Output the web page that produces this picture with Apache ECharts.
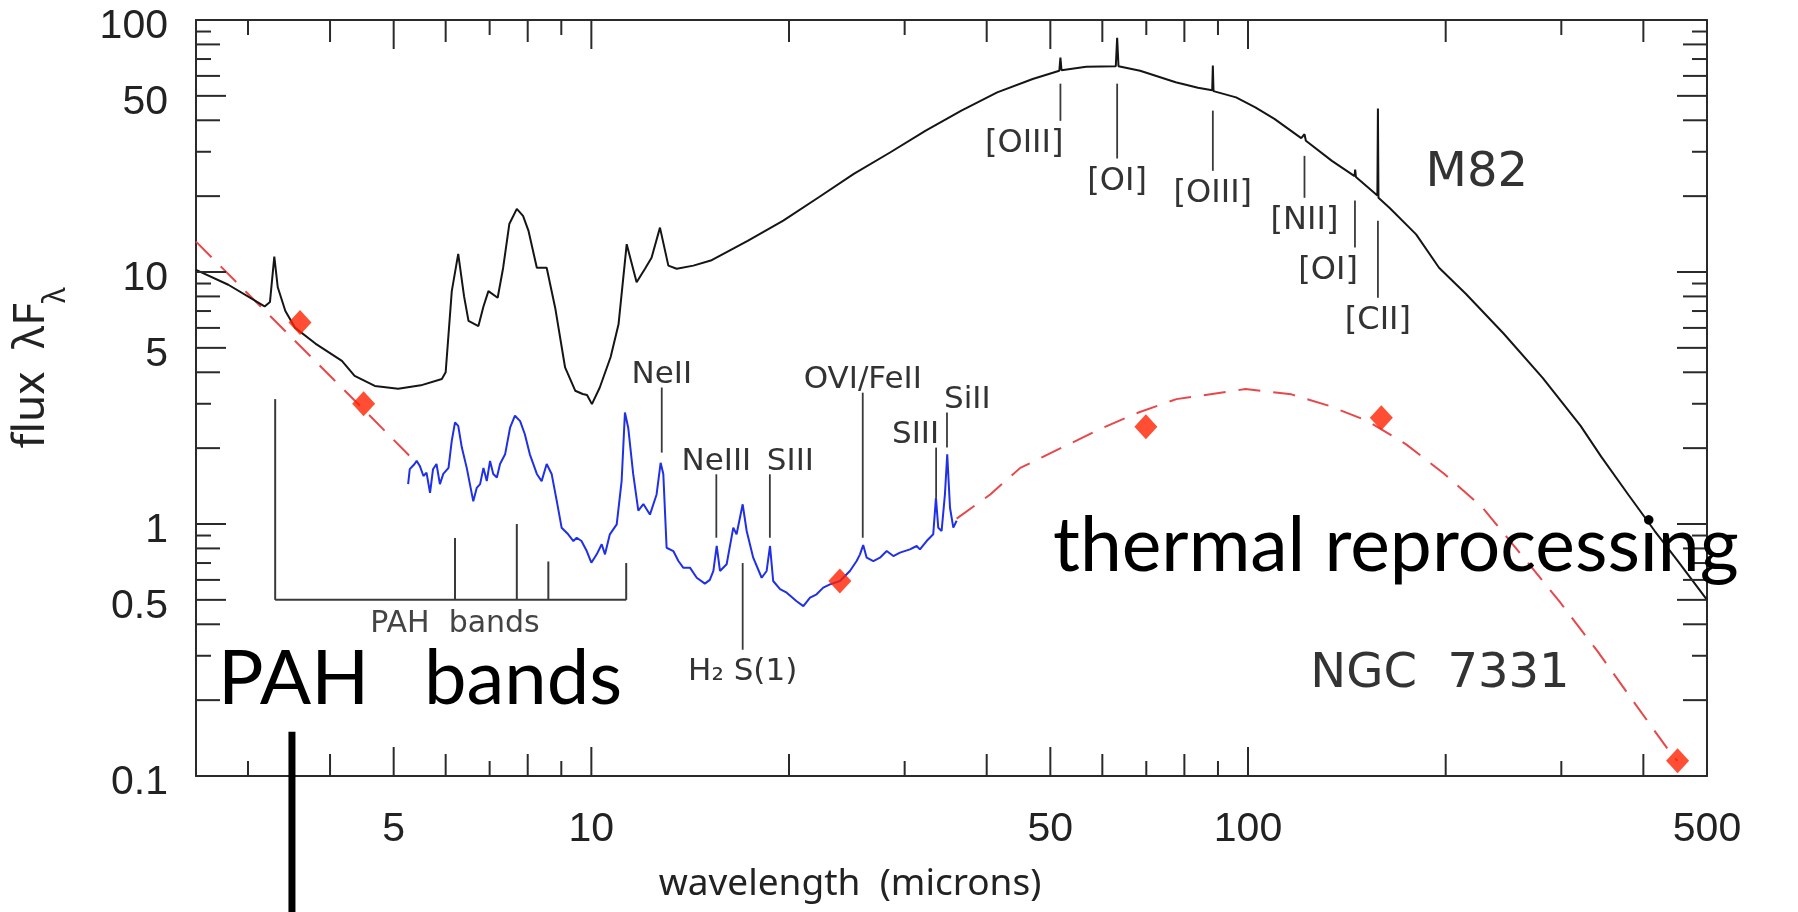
<!DOCTYPE html>
<html>
<head>
<meta charset="utf-8">
<title>M82 / NGC 7331 infrared spectra</title>
<script src="https://cdn.jsdelivr.net/npm/echarts@6/dist/echarts.min.js"></script>
<style>
  html, body { margin: 0; padding: 0; background: #fff; }
  #chart { width: 1798px; height: 912px; }
</style>
</head>
<body>
<div id="chart"></div>
<script>
// [wavelength (microns), flux lambda*F_lambda]
const m82Spectrum = [
  [2.5, 10.2], [2.8, 8.9], [3.18, 7.3], [3.24, 7.6], [3.29, 11.5], [3.33, 8.7], [3.42, 7.0],
  [3.54, 6.0], [3.8, 5.2], [4.17, 4.44], [4.36, 3.87], [4.68, 3.53], [5.08, 3.44], [5.5, 3.55],
  [5.92, 3.76], [6.0, 4.0], [6.13, 8.4], [6.27, 11.8], [6.4, 8.0], [6.5, 6.4], [6.73, 6.1],
  [6.85, 7.3], [6.97, 8.4], [7.2, 7.9], [7.34, 10.4], [7.5, 15.5], [7.7, 17.8], [7.87, 16.7],
  [8.02, 14.6], [8.26, 10.4], [8.55, 10.4], [8.81, 7.2], [9.12, 4.18], [9.45, 3.38], [9.7, 3.28],
  [9.85, 3.25], [10.02, 2.99], [10.3, 3.48], [10.7, 4.6], [11.0, 6.2], [11.32, 12.9], [11.72, 9.1],
  [12.07, 10.3], [12.35, 11.4], [12.72, 15.0], [13.1, 10.6], [13.49, 10.3], [14.3, 10.6],
  [15.2, 11.1], [17.3, 13.3], [19.6, 16.0], [22.2, 19.8], [25.1, 24.5], [28.5, 29.8], [32.3, 36.4],
  [36.6, 43.7], [41.5, 51.6], [47.0, 58.3], [51.6, 62.9], [51.8, 71], [52.0, 63.2], [56.7, 65.3],
  [62.9, 65.5], [63.2, 85], [63.5, 65.5], [68.5, 62.9], [77.6, 56.6], [83.9, 53.8], [88.2, 52.6],
  [88.4, 66], [88.6, 52.2], [95.9, 49.3], [102.6, 45], [109.7, 40.5], [120.5, 34], [121.9, 35.2],
  [122.5, 33.2], [134.2, 27.6], [145.3, 24.0], [145.6, 25.5], [146.0, 23.8], [157.4, 20.1],
  [157.7, 44.5], [158.0, 19.7], [164.2, 18.0], [180.3, 14.1], [195.4, 10.4], [214.6, 8.2],
  [245, 5.7], [281, 3.8], [321, 2.45], [345, 1.85], [380, 1.3], [416, 0.94], [450, 0.72], [500, 0.5]
];

const ngc7331Spectrum = [
  [5.26, 1.44], [5.29, 1.65], [5.38, 1.73], [5.42, 1.78], [5.48, 1.70], [5.55, 1.55], [5.61, 1.60],
  [5.68, 1.33], [5.74, 1.65], [5.81, 1.73], [5.88, 1.44], [5.95, 1.58], [6.06, 1.67], [6.13, 2.14],
  [6.20, 2.53], [6.27, 2.45], [6.35, 2.01], [6.46, 1.67], [6.61, 1.23], [6.69, 1.39], [6.77, 1.44],
  [6.85, 1.67], [6.93, 1.48], [7.01, 1.78], [7.09, 1.58], [7.18, 1.53], [7.26, 1.73], [7.39, 1.89],
  [7.52, 2.41], [7.65, 2.69], [7.79, 2.56], [7.92, 2.27], [8.06, 1.89], [8.26, 1.58], [8.40, 1.48],
  [8.55, 1.73], [8.70, 1.58], [8.86, 1.23], [9.01, 0.967], [9.22, 0.91], [9.39, 0.856], [9.50, 0.882],
  [9.66, 0.856], [9.84, 0.781], [10.0, 0.702], [10.19, 0.758], [10.37, 0.831], [10.49, 0.758],
  [10.67, 0.91], [10.93, 0.997], [11.12, 1.48], [11.25, 2.77], [11.38, 2.41], [11.58, 1.58],
  [11.79, 1.13], [12.0, 1.20], [12.28, 1.09], [12.57, 1.31], [12.75, 1.75], [12.87, 1.58],
  [13.02, 0.805], [13.33, 0.781], [13.57, 0.713], [13.8, 0.671], [14.13, 0.671], [14.47, 0.612],
  [14.89, 0.58], [15.15, 0.60], [15.34, 0.651], [15.52, 0.818], [15.70, 0.651], [16.07, 0.692],
  [16.45, 0.967], [16.64, 0.910], [17.0, 1.197], [17.24, 0.938], [17.64, 0.735], [18.17, 0.612],
  [18.49, 0.651], [18.71, 0.818], [18.92, 0.594], [19.38, 0.551], [19.84, 0.534], [20.54, 0.494],
  [21.03, 0.472], [21.53, 0.51], [22.03, 0.526], [22.55, 0.559], [23.09, 0.576], [23.91, 0.594],
  [24.76, 0.651], [25.35, 0.713], [25.65, 0.758], [25.94, 0.825], [26.26, 0.735], [26.88, 0.713],
  [27.51, 0.735], [28.17, 0.781], [28.83, 0.746], [29.51, 0.77], [30.56, 0.793], [31.29, 0.818],
  [31.65, 0.793], [32.4, 0.856], [33.16, 0.91], [33.48, 1.27], [33.75, 0.967], [34.15, 0.938],
  [34.55, 1.31], [34.83, 1.89], [35.17, 1.16], [35.58, 0.967], [36.0, 1.03]
];

// dashed model curve, split where the spectrum covers it
const modelShort = [[2.5, 13.2], [3.5, 5.48], [4.5, 2.85], [5.4, 1.76]];
const modelLong = [
  [36.0, 1.05], [40.5, 1.31], [45.0, 1.67], [59.5, 2.38], [68.1, 2.77], [77.8, 3.13], [99.1, 3.43],
  [116.4, 3.27], [133.1, 2.94], [152.2, 2.56], [174.1, 2.07], [199.1, 1.58], [227.7, 1.16],
  [260.4, 0.758], [297.8, 0.494], [340.5, 0.313], [389.4, 0.192], [445.5, 0.118], [451, 0.115]
];
const photometry = [[3.6, 6.3], [4.5, 3.0], [23.9, 0.594], [69.9, 2.43], [159.6, 2.64], [451, 0.115]];

// axis ticks and labels
const xTickMajor = [5, 10, 50, 100, 500];
const xTickMid = [4, 6, 8, 20, 40, 60, 80, 200, 400];
const xTickMinor = [3, 7, 9, 30, 70, 90, 300];
const yTickMajor = [0.5, 1, 5, 10, 50];
const yTickMid = [0.2, 0.4, 0.6, 0.8, 2, 4, 6, 8, 20, 40, 60, 80];
const yTickMinor = [0.3, 0.7, 0.9, 3, 7, 9, 30, 70, 90];
const xTickLabels = [5, 10, 50, 100, 500];
const yTickLabels = [0.1, 0.5, 1, 5, 10, 50, 100];

// emission line markers: [wavelength, marker top, marker bottom]
const m82Lines = [[51.8, 55.9, 39.8], [63.2, 55.9, 28.2], [88.4, 43.7, 25.2],
  [121.9, 28.9, 19.7], [145.5, 19.2, 12.5], [157.7, 15.97, 7.9]];
const m82LineNames = ['[OIII]', '[OI]', '[OIII]', '[NII]', '[OI]', '[CII]'];
const ngcLines = [[12.8, 3.48, 1.92], [15.5, 1.575, 0.882], [18.7, 1.575, 0.882],
  [17.0, 0.70, 0.317], [25.9, 3.32, 0.882], [33.5, 2.01, 1.27], [34.8, 2.77, 2.01]];
const ngcLineNames = ['NeII', 'NeIII', 'SIII', 'H\u2082 S(1)', 'OVI/FeII', 'SIII', 'SiII'];
// PAH band bracket: bands and how high each marker reaches
const pahBands = [[3.3, 3.13], [6.2, 0.88], [7.7, 1.0], [8.6, 0.71], [11.3, 0.70]];
const pahBase = 0.5;

// label placement for markers
const m82Place = [['right', 'below'], ['center', 'below'], ['center', 'below'],
  ['center', 'below'], ['right', 'below'], ['center', 'below']];
const ngcPlace = [['center', 'above'], ['center', 'above'], ['left', 'above'],
  ['center', 'below'], ['center', 'above'], ['right', 'above'], ['left', 'above']];

const X_MIN = 2.5, X_MAX = 500, Y_MIN = 0.1, Y_MAX = 100;
const INK = '#2a2a2a';
const FIG_FONT = '"DejaVu Sans", "Noto Sans", sans-serif';
const AXIS_FONT = '"Liberation Sans", Arial, sans-serif';
const SLIDE_FONT = 'Lato, "Open Sans", sans-serif';

const chart = echarts.init(document.getElementById('chart'));

function xTicks(values, len) {
  return {
    type: 'custom', silent: true, z: 4,
    data: values.map(v => [v, 1]),
    renderItem: (params, api) => {
      const b = api.coord([api.value(0), Y_MIN]);
      const t = api.coord([api.value(0), Y_MAX]);
      const st = { stroke: INK, lineWidth: 2 };
      return { type: 'group', children: [
        { type: 'line', shape: { x1: b[0], y1: b[1], x2: b[0], y2: b[1] - len }, style: st },
        { type: 'line', shape: { x1: t[0], y1: t[1], x2: t[0], y2: t[1] + len }, style: st }
      ] };
    }
  };
}

function yTicks(values, len) {
  return {
    type: 'custom', silent: true, z: 4,
    data: values.map(v => [10, v]),
    renderItem: (params, api) => {
      const l = api.coord([X_MIN, api.value(1)]);
      const r = api.coord([X_MAX, api.value(1)]);
      const st = { stroke: INK, lineWidth: 2 };
      return { type: 'group', children: [
        { type: 'line', shape: { x1: l[0], y1: l[1], x2: l[0] + len, y2: l[1] }, style: st },
        { type: 'line', shape: { x1: r[0], y1: r[1], x2: r[0] - len, y2: r[1] }, style: st }
      ] };
    }
  };
}

function markerSeries(lines, names, place, fontSize) {
  return {
    type: 'custom', silent: true, z: 5,
    data: lines.map((l, i) => [l[0], l[1], l[2], i]),
    renderItem: (params, api) => {
      const i = api.value(3);
      const top = api.coord([api.value(0), api.value(1)]);
      const bot = api.coord([api.value(0), api.value(2)]);
      const align = place[i][0], below = place[i][1] === 'below';
      let tx = top[0];
      if (align === 'right') tx += 3;
      if (align === 'left') tx -= 3;
      const ty = below ? bot[1] + 7 : top[1] + 3;
      return { type: 'group', children: [
        { type: 'line', shape: { x1: top[0], y1: top[1], x2: bot[0], y2: bot[1] },
          style: { stroke: '#3a3a3a', lineWidth: 1.8 } },
        { type: 'text', x: tx, y: ty,
          style: { text: names[i], align: align, verticalAlign: below ? 'top' : 'bottom',
            font: fontSize + 'px ' + FIG_FONT, fill: '#333' } }
      ] };
    }
  };
}

const option = {
  animation: false,
  backgroundColor: '#fff',
  grid: { left: 196, top: 20, width: 1511, height: 756, show: false },
  xAxis: [
    { type: 'log', min: X_MIN, max: X_MAX, position: 'bottom',
      axisLine: { show: true, lineStyle: { color: INK, width: 2 } },
      axisTick: { show: false }, axisLabel: { show: false }, splitLine: { show: false } },
    { type: 'log', min: X_MIN, max: X_MAX, position: 'top',
      axisLine: { show: true, lineStyle: { color: INK, width: 2 } },
      axisTick: { show: false }, axisLabel: { show: false }, splitLine: { show: false } }
  ],
  yAxis: [
    { type: 'log', min: Y_MIN, max: Y_MAX, position: 'left',
      axisLine: { show: true, lineStyle: { color: INK, width: 2 } },
      axisTick: { show: false }, axisLabel: { show: false }, splitLine: { show: false } },
    { type: 'log', min: Y_MIN, max: Y_MAX, position: 'right',
      axisLine: { show: true, lineStyle: { color: INK, width: 2 } },
      axisTick: { show: false }, axisLabel: { show: false }, splitLine: { show: false } }
  ],
  series: [
    xTicks(xTickMajor, 29), xTicks(xTickMid, 22), xTicks(xTickMinor, 15),
    yTicks(yTickMajor, 30), yTicks(yTickMid, 24), yTicks(yTickMinor, 15),
    {
      // tick labels along the bottom
      type: 'custom', silent: true,
      data: xTickLabels.map(v => [v, 1]),
      renderItem: (params, api) => {
        const p = api.coord([api.value(0), Y_MIN]);
        return { type: 'text', x: p[0], y: p[1] + 54,
          style: { text: String(api.value(0)), align: 'center', verticalAlign: 'middle',
            font: '41px ' + AXIS_FONT, fill: '#222' } };
      }
    },
    {
      type: 'custom', silent: true,
      data: yTickLabels.map(v => [10, v]),
      renderItem: (params, api) => {
        const p = api.coord([X_MIN, api.value(1)]);
        return { type: 'text', x: p[0] - 28, y: p[1] + 7,
          style: { text: String(api.value(1)), align: 'right', verticalAlign: 'middle',
            font: '41px ' + AXIS_FONT, fill: '#222' } };
      }
    },
    {
      name: 'model', type: 'line', data: modelShort, showSymbol: false, z: 2,
      lineStyle: { color: '#e8474a', width: 2, type: [22, 13] }
    },
    {
      name: 'model', type: 'line', data: modelLong, showSymbol: false, z: 2,
      lineStyle: { color: '#e8474a', width: 2, type: [22, 13] }
    },
    {
      name: 'M82', type: 'line', data: m82Spectrum, showSymbol: false, z: 3,
      lineStyle: { color: '#151515', width: 2 }
    },
    {
      name: 'NGC 7331', type: 'line', data: ngc7331Spectrum, showSymbol: false, z: 3,
      lineStyle: { color: '#1f30e6', width: 2 }
    },
    {
      name: 'photometry', type: 'scatter', data: photometry, z: 6,
      symbol: 'diamond', symbolSize: [23, 25], itemStyle: { color: '#ff2200' }
    },
    markerSeries(m82Lines, m82LineNames, m82Place, 32),
    markerSeries(ngcLines, ngcLineNames, ngcPlace, 31),
    {
      // PAH bands bracket
      type: 'custom', silent: true, z: 5,
      data: pahBands.map(b => [b[0], b[1]]),
      renderItem: (params, api) => {
        const top = api.coord([api.value(0), api.value(1)]);
        const bot = api.coord([api.value(0), pahBase]);
        const children = [{ type: 'line', shape: { x1: top[0], y1: top[1], x2: bot[0], y2: bot[1] },
          style: { stroke: '#3a3a3a', lineWidth: 2 } }];
        if (params.dataIndex === 0) {
          const end = api.coord([pahBands[pahBands.length - 1][0], pahBase]);
          children.push({ type: 'line', shape: { x1: bot[0], y1: bot[1], x2: end[0], y2: end[1] },
            style: { stroke: '#3a3a3a', lineWidth: 2 } });
          const mid = api.coord([6.2, pahBase]);
          children.push({ type: 'text', x: mid[0], y: mid[1] + 9,
            style: { text: 'PAH  bands', align: 'center', verticalAlign: 'top',
              font: '30px ' + FIG_FONT, fill: '#444' } });
        }
        return { type: 'group', children: children };
      }
    },
    {
      // slide pointer under "PAH bands"
      type: 'custom', silent: true, z: 7,
      data: [[3.5, 0.15]],
      renderItem: (params, api) => {
        const a = api.coord([api.value(0), api.value(1)]);
        const b = api.coord([api.value(0), 0.02]);
        return { type: 'line', shape: { x1: a[0], y1: a[1], x2: b[0], y2: b[1] },
          style: { stroke: '#000', lineWidth: 7 } };
      }
    },
    {
      // galaxy names
      type: 'custom', silent: true, z: 5,
      data: [[223, 24.5, 0], [196, 0.253, 1]],
      renderItem: (params, api) => {
        const p = api.coord([api.value(0), api.value(1)]);
        return { type: 'text', x: p[0], y: p[1],
          style: { text: ['M82', 'NGC  7331'][api.value(2)], align: 'center', verticalAlign: 'middle',
            font: '48px ' + FIG_FONT, fill: '#333' } };
      }
    }
  ],
  graphic: [
    { type: 'text', x: 850, y: 884, z: 10,
      style: { text: 'wavelength  (microns)', align: 'center', verticalAlign: 'middle',
        font: '37px "Noto Sans", sans-serif', fill: '#222' } },
    { type: 'text', x: 40, y: 368, rotation: Math.PI / 2, z: 10,
      style: { text: '{m|flux  \u03bbF}{s|\u03bb}', align: 'center', verticalAlign: 'middle',
        rich: {
          m: { font: '44px "Noto Sans", sans-serif', fill: '#222', lineHeight: 62, verticalAlign: 'top' },
          s: { font: '30px "Noto Sans", sans-serif', fill: '#222', lineHeight: 30, verticalAlign: 'bottom' }
        } } },
    { type: 'text', x: 218, y: 679, z: 10,
      style: { text: 'PAH', align: 'left', verticalAlign: 'middle', font: '76px ' + SLIDE_FONT, fill: '#000' } },
    { type: 'text', x: 424, y: 679, z: 10,
      style: { text: 'bands', align: 'left', verticalAlign: 'middle', font: '76px ' + SLIDE_FONT, fill: '#000' } },
    { type: 'text', x: 1053, y: 547, z: 10,
      style: { text: 'thermal reprocessing', align: 'left', verticalAlign: 'middle',
        font: '75px ' + SLIDE_FONT, fill: '#000' } }
  ]
};

chart.setOption(option);
</script>
</body>
</html>
